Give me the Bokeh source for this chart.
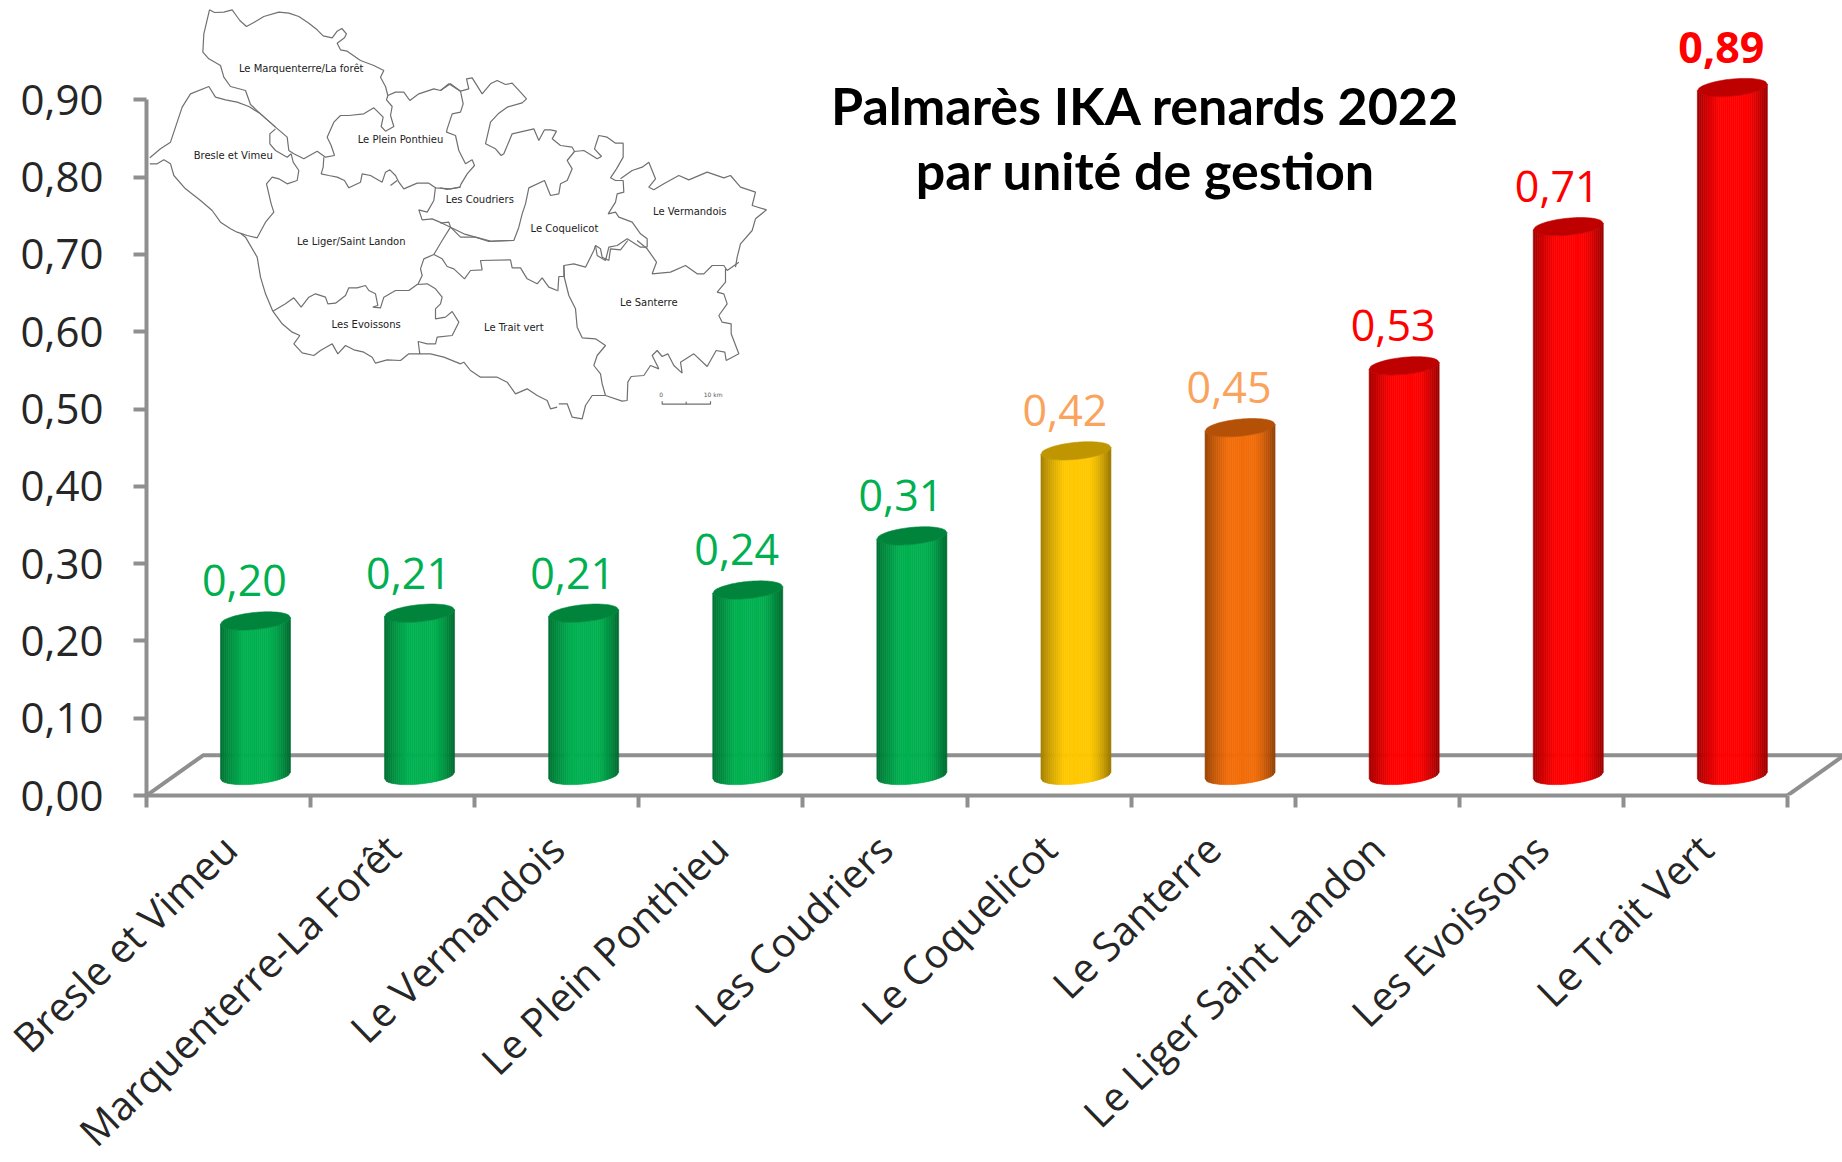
import math
from bokeh.plotting import figure
from bokeh.models import Range1d, LinearAxis, FixedTicker
from bokeh.core.properties import value
from bokeh.embed import file_html
from bokeh.resources import INLINE

# ---- chart data
categories = ["Bresle et Vimeu", "Marquenterre-La Forêt", "Le Vermandois", "Le Plein Ponthieu",
              "Les Coudriers", "Le Coquelicot", "Le Santerre", "Le Liger Saint Landon",
              "Les Evoissons", "Le Trait Vert"]
ika_values = [0.20, 0.21, 0.21, 0.24, 0.31, 0.42, 0.45, 0.53, 0.71, 0.89]
bar_colors = ["#00B050"] * 5 + ["#FFC800", "#F26D0A"] + ["#FF0000"] * 3
label_colors = ["#00B050"] * 5 + ["#F9A35C", "#F9A35C"] + ["#FF0000"] * 3
label_styles = ["normal"] * 9 + ["bold"]
value_labels = ["0,20", "0,21", "0,21", "0,24", "0,31", "0,42", "0,45", "0,53", "0,71", "0,89"]
y_ticks = [0.0, 0.1, 0.2, 0.3, 0.4, 0.5, 0.6, 0.7, 0.8, 0.9]
y_tick_labels = ["0,00", "0,10", "0,20", "0,30", "0,40", "0,50", "0,60", "0,70", "0,80", "0,90"]
title_lines = ["Palmarès IKA renards 2022", "par unité de gestion"]


# ---- inset map: outlines traced in four tracing sheets (origin, then 3x units)
def sheet(ox, oy, pts):
    return [(ox + x / 3, oy + y / 3) for x, y in pts]


SHEET_A = (140, 0)
SHEET_B = (240, 180)
SHEET_C = (440, 70)
SHEET_D = (540, 240)

map_outlines = [
    sheet(*SHEET_A, [(207,28),(222,36),(250,35),(275,28),(285,42),(298,60),(318,78),(340,66),(370,48),(415,35),
                     (445,38),(475,48),(505,68),(530,88),(548,106),(575,112),(590,92),(604,84),(618,100),(612,112),
                     (590,128),(600,148),(620,152),(660,180),(700,195),(730,210),(720,230),(735,258),(742,285),
                     (738,298),(755,318),(750,345),(760,378),(735,392),(722,378),(728,350),(700,322),(670,340),
                     (625,345),(600,345),(580,365),(560,410),(572,435),(582,465),(555,470),(530,452),(490,475),
                     (460,460),(445,450),(440,410),(405,380),(360,340),(330,312),(315,270),(270,258),(250,230),
                     (240,195),(205,175),(187,155),(190,100),(207,28)]),
    sheet(*SHEET_A, [(28,472),(60,445),(90,425),(105,380),(125,320),(150,280),(205,258),(225,290),(255,298),(290,305),
                     (325,318),(360,340),(405,380)]),
    sheet(*SHEET_A, [(405,385),(388,400),(388,430),(405,450),(440,470),(452,460),(458,485),(475,510),(470,540),
                     (440,550),(415,535),(395,530),(378,550),(385,580),(392,610),(400,635),(375,665),(350,712),
                     (320,705),(290,695),(270,685),(240,665),(215,630),(180,600),(135,565),(100,525),(90,490),
                     (70,478),(50,490),(28,490)]),
    sheet(*SHEET_A, [(550,470),(548,500),(542,520),(565,525),(590,530),(612,540),(625,562),(660,545),(665,520),
                     (690,525),(725,545),(735,515),(748,508),(765,525),(775,545),(790,565),(830,548),(865,548),
                     (885,562),(930,565),(960,560)]),
    sheet(*SHEET_A, [(750,555),(770,540)]),
    sheet(*SHEET_A, [(742,285),(765,275),(790,275),(808,300),(835,280),(880,265),(900,270),(925,250),(960,272)]),
    sheet(*SHEET_C, [(0,60),(30,40),(60,62),(68,100),(60,125),(35,130),(20,175),(18,185),(45,195),(55,240),(75,280),
                     (95,268),(102,285),(80,310),(62,340),(58,350),(20,357),(0,352)]),
    sheet(*SHEET_C, [(60,62),(85,55),(78,25),(95,22),(125,70),(150,40),(170,30),(195,42),(215,38),(240,65),(258,85),
                     (245,97),(200,110),(175,128),(150,155),(135,220),(165,235),(182,255),(190,250),(215,190),
                     (280,175),(295,210),(312,178),(330,178),(348,182),(335,205),(360,225),(395,230),(402,243),
                     (430,240),(470,265),(483,258),(462,235),(475,195),(500,200),(525,218),(548,218),(548,260),
                     (528,295),(510,322),(525,330),(548,330),(550,365),(530,370),(525,395),(503,430),(525,425),
                     (535,440),(575,455),(600,490),(620,505),(620,530)]),
    sheet(*SHEET_C, [(402,243),(380,270),(395,295),(380,330),(360,340),(355,370),(330,375),(312,330),(265,352),
                     (255,400),(245,430),(235,470),(220,510),(150,512),(105,500),(70,490),(30,470),(25,455),(0,458)]),
    sheet(*SHEET_B, [(630,140),(605,128),(575,115),(545,118),(535,88),(560,95),(580,60),(585,20)]),
    sheet(*SHEET_B, [(630,140),(660,170),(705,170),(745,183),(800,180)]),
    sheet(*SHEET_B, [(630,140),(605,180),(580,222),(550,235),(540,265),(545,285),(532,312)]),
    sheet(*SHEET_B, [(580,222),(605,235),(620,258),(640,265),(672,295),(690,270),(725,268),(720,240),(810,238),
                     (815,262),(840,262),(860,295),(890,310),(905,292),(925,320),(950,330)]),
    sheet(*SHEET_D, [(52,152),(55,108),(72,108),(70,75),(100,70),(135,80),(160,30),(165,15),(180,25),(185,50),
                     (205,60),(210,25),(240,28),(262,0)]),
    sheet(*SHEET_D, [(70,75),(70,105),(85,165),(105,205),(110,260),(125,292),(165,295),(195,315),(170,345),(160,375),
                     (180,400),(185,430),(195,465),(245,482),(260,480),(262,425),(272,408),(310,405),(330,375),
                     (355,385),(335,345),(350,330),(365,348),(382,340),(400,375),(425,398),(420,365),(460,340),
                     (500,378),(527,330),(553,335),(557,360),(595,340),(572,280),(572,250),(545,245),(535,225),
                     (560,190),(550,160),(530,155),(555,125),(555,85)]),
    sheet(*SHEET_D, [(595,65),(560,90),(550,75),(515,75),(490,100),(470,100),(435,75),(390,95),(335,100),(348,65),
                     (320,25),(290,0)]),
    sheet(*SHEET_C, [(465,525),(470,555),(495,570),(505,530),(530,525),(560,505),(600,530),(620,530)]),
    sheet(*SHEET_C, [(540,325),(575,300),(605,290),(625,275),(645,325),(625,350),(640,358),(670,340),(715,315),
                     (745,328),(800,305),(850,322),(870,315),(900,350),(945,365),(935,405),(978,418),(945,445),
                     (935,480),(900,520),(890,560),(885,590)]),
    sheet(*SHEET_B, [(538,520),(570,520),(610,530),(660,550),(670,545),(690,570),(720,590),(770,590),(800,605),
                     (825,640),(860,625),(890,645),(920,660),(930,685),(950,680)]),
    sheet(*SHEET_D, [(55,490),(80,490),(95,530),(125,535),(135,495),(155,465),(195,465)]),
    sheet(*SHEET_B, [(97,392),(135,370),(160,352),(182,380),(205,350),(225,340),(255,350),(262,370),(285,368),
                     (315,345),(325,322),(350,322),(375,315),(385,330),(405,340),(412,375),(397,380),(420,382),
                     (430,350),(465,330),(505,330),(530,312),(560,310),(585,325),(605,350),(600,370),(585,385),
                     (585,415),(615,410),(635,393),(655,425),(635,465),(590,470),(585,490),(560,490),(533,483),
                     (538,520),(505,520),(480,540),(440,538),(405,548),(395,530),(370,515),(340,508),(315,495),
                     (292,520),(275,490),(240,510),(220,525),(185,517),(160,490),(178,465),(155,455),(125,430),
                     (97,392)]),
    sheet(*SHEET_B, [(0,158),(15,170),(50,230),(60,290),(75,340),(97,392)]),
    # scale bar
    sheet(*SHEET_D, [(365,482),(365,491),(510,491),(510,482)]),
    sheet(*SHEET_D, [(437,484),(437,491)]),
]
map_names = ["Le Marquenterre/La forêt", "Bresle et Vimeu", "Le Plein Ponthieu", "Les Coudriers", "Le Vermandois",
             "Le Coquelicot", "Le Liger/Saint Landon", "Le Santerre", "Les Evoissons", "Le Trait vert"]
map_name_x = [300.7, 232.7, 400, 479.3, 689.3, 564, 350.7, 648.3, 365.7, 513.3]
map_name_y = [67.7, 154.7, 139.3, 199, 210.7, 228.3, 241, 302.3, 323.7, 327.3]
scale_names = ["0", "10 km"]
scale_x = [660.7, 712.7]
scale_y = [394, 394]

# ---- page geometry (frame position on the page)
W, H = 1842, 1162
LEFT, TOP = 146, 0
FRAME_BOTTOM = 795
PX_X = 164.1          # pixels per category
PX_Y = 773.0          # pixels per unit of IKA


def shade(hex_color, f):
    r, g, b = (int(hex_color[i:i + 2], 16) for i in (1, 3, 5))
    return "#%02x%02x%02x" % (int(r * f), int(g * f), int(b * f))


p = figure(width=W, height=H, output_backend="svg", toolbar_location=None,
           frame_width=W - LEFT, frame_height=FRAME_BOTTOM,
           x_range=Range1d(0, (W - LEFT) / PX_X), y_range=Range1d(0, FRAME_BOTTOM / PX_Y),
           x_axis_location=None, y_axis_location=None, min_border_left=LEFT, min_border_right=0,
           min_border_top=TOP, min_border_bottom=H - FRAME_BOTTOM, background_fill_color="white")
p.outline_line_color = None
p.grid.visible = False

AX = "#8f8f8f"
FONT = "Open Sans"

# floor of the 3-D box
DEPTH_X, DEPTH_Y = 0.345, 0.052
p.line([0, DEPTH_X, 11], [0, DEPTH_Y, DEPTH_Y], line_color=AX, line_width=4)
p.line([10, 10 + DEPTH_X], [0, DEPTH_Y], line_color=AX, line_width=4)

# cylinders, built from narrow vertical strips to get the shading
A = 35 / PX_X
B = 8.5 / PX_Y
TILT = 3.3 / PX_Y
BASE = 20 / PX_Y
SHIFT = 0.164
N = 36


def lower(y, u):
    return y + TILT * u - B * math.sqrt(max(0.0, 1 - u * u))


def upper(y, u):
    return y + TILT * u + B * math.sqrt(max(0.0, 1 - u * u))


def factor(u):
    if u < -0.35:
        return 0.62 + 0.38 * ((u + 1) / 0.65) ** 0.8
    if u < 0.4:
        return 1.0
    return 1.0 - 0.4 * ((u - 0.4) / 0.6) ** 1.4


xs, ys, cols = [], [], []
cap_x, cap_y, cap_c = [], [], []
for i, (v, c) in enumerate(zip(ika_values, bar_colors)):
    cx = i + 0.5 + SHIFT
    top = BASE + v
    for k in range(N):
        u0, u1 = -1 + 2 * k / N, -1 + 2 * (k + 1) / N
        xs.append([cx + A * u0, cx + A * u1, cx + A * u1, cx + A * u0])
        ys.append([lower(BASE, u0), lower(BASE, u1), lower(top, u1), lower(top, u0)])
        cols.append(shade(c, factor((u0 + u1) / 2)))
    us = [-1 + 2 * k / 40 for k in range(41)]
    cap_x.append([cx + A * u for u in us] + [cx + A * u for u in reversed(us)])
    cap_y.append([lower(top, u) for u in us] + [upper(top, u) for u in reversed(us)])
    cap_c.append(shade(c, 0.75))
p.patches(xs, ys, fill_color=cols, line_color=cols, line_width=0.6)
p.patches(cap_x, cap_y, fill_color=cap_c, line_color=cap_c, line_width=0.6)

# value labels
p.text([i + 0.5 + SHIFT for i in range(10)], [BASE + v for v in ika_values], text=value_labels,
       text_color=label_colors, text_font=value(FONT), text_font_size="43px", text_font_style=label_styles,
       text_align="center", text_baseline="middle", x_offset=-11, y_offset=-40)

# y axis
yax = LinearAxis(ticker=FixedTicker(ticks=y_ticks), bounds=(0, 0.9),
                 major_label_overrides=dict(zip(y_ticks, y_tick_labels)))
yax.axis_line_color = AX
yax.axis_line_width = 4
yax.major_tick_line_color = AX
yax.major_tick_line_width = 4
yax.major_tick_in = 0
yax.major_tick_out = 13
yax.minor_tick_line_color = None
yax.major_label_standoff = 30
yax.major_label_text_font = FONT
yax.major_label_text_font_size = "42px"
yax.major_label_text_color = "#262626"
p.add_layout(yax, "left")

# x axis: labels at the category centres, tick marks at the category edges
centers = [i + 0.5 for i in range(10)]
edges = [float(i) for i in range(11)]
xax = LinearAxis(ticker=FixedTicker(ticks=centers, minor_ticks=edges), bounds=(0, 10),
                 major_label_overrides=dict(zip(centers, categories)))
xax.axis_line_color = AX
xax.axis_line_width = 4
xax.major_tick_line_color = None
xax.major_tick_in = 0
xax.major_tick_out = 0
xax.minor_tick_line_color = AX
xax.minor_tick_line_width = 4
xax.minor_tick_in = 0
xax.minor_tick_out = 12
xax.major_label_orientation = math.radians(44)
xax.major_label_standoff = 34
xax.major_label_text_font = FONT
xax.major_label_text_font_size = "40px"
xax.major_label_text_color = "#262626"
p.add_layout(xax, "below")

# own scale (page pixels) for the inset map and the title block
p.extra_x_ranges["inset"] = Range1d(LEFT, W)
p.extra_y_ranges["inset"] = Range1d(FRAME_BOTTOM, TOP)

p.multi_line([[q[0] for q in o] for o in map_outlines], [[q[1] for q in o] for o in map_outlines],
             x_range_name="inset", y_range_name="inset", line_color="#707070", line_width=1.2)
p.text(map_name_x, map_name_y, text=map_names, x_range_name="inset", y_range_name="inset",
       text_font=value("DejaVu Sans"), text_font_size="10px", text_color="#222222",
       text_align="center", text_baseline="middle")
p.text(scale_x, scale_y, text=scale_names, x_range_name="inset", y_range_name="inset",
       text_font=value("DejaVu Sans"), text_font_size="6px", text_color="#555555",
       text_align="center", text_baseline="middle")

# title block
p.text([1145, 1145], [104, 169], text=title_lines, x_range_name="inset", y_range_name="inset",
       text_font=value("Lato"), text_font_style="bold", text_font_size="52px", text_color="#000000",
       text_align="center", text_baseline="middle")

open("out.html", "w").write(file_html(p, INLINE))
